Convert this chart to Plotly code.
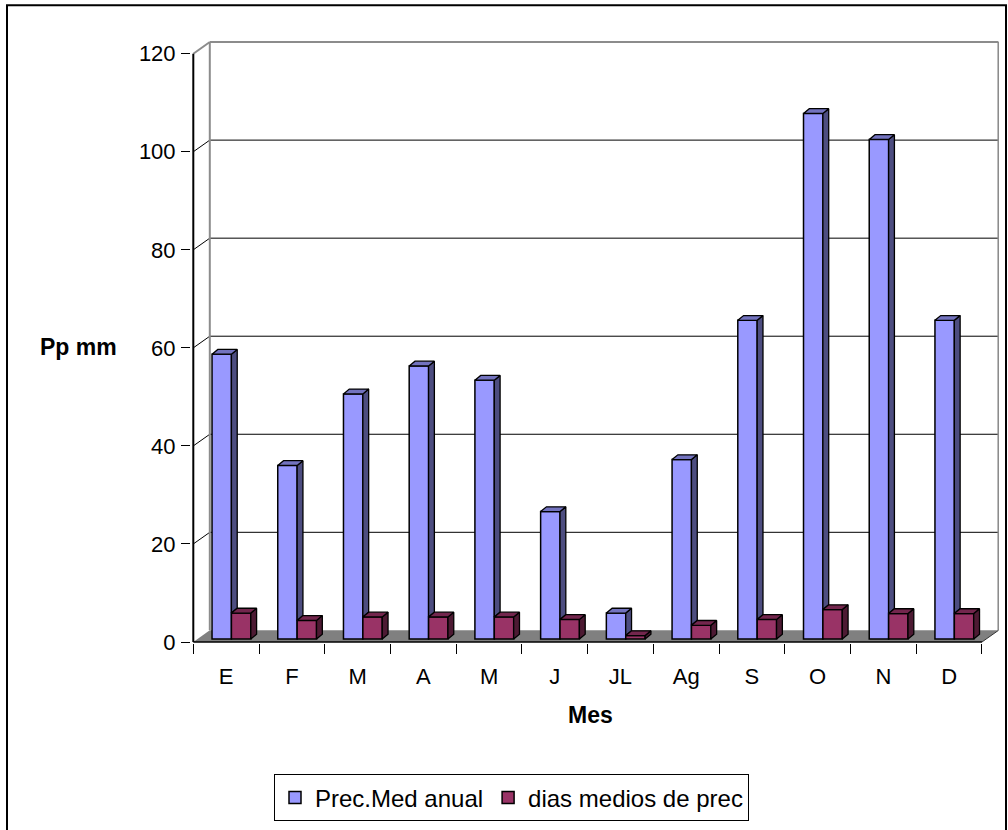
import plotly.graph_objects as go

# ---- data -------------------------------------------------------------
meses = ["E", "F", "M", "A", "M", "J", "JL", "Ag", "S", "O", "N", "D"]
prec_med_anual = [58.1, 35.4, 50.0, 55.7, 52.8, 26.0, 5.3, 36.6, 65.0, 107.2, 101.9, 65.0]
dias_medios_prec = [5.3, 3.8, 4.5, 4.5, 4.5, 4.0, 0.7, 2.8, 4.0, 6.0, 5.2, 5.2]
y_ticks = [0, 20, 40, 60, 80, 100, 120]

# ---- page geometry (pixels) --------------------------------------------
W, H = 1008, 830
L, R, T, B = 191, 9, 41, 184
PX_X = 65.72          # pixels per category slot
PX_Y = 4.927          # pixels per mm
X0_PX = 193.3         # pixel column of the front value axis
Y0_PX = 645.0         # pixel row of the value 0 on the front axis

x_range = [-(X0_PX - L) / PX_X, (W - R - X0_PX) / PX_X]
y_range = [-(H - B - Y0_PX) / PX_Y, (Y0_PX - T) / PX_Y]

# 3-D look: depth of the walls and of the columns, in data units
WALL_DX, WALL_DY = 16.5 / PX_X, 11.7 / PX_Y
BAR_DX, BAR_DY = 5.8 / PX_X, 4.8 / PX_Y
BAR_BASE = 3.0 / PX_Y
BAR_W = 0.295
OFF_BLUE, OFF_RED = 0.285, 0.58
N = len(meses)
YMAX = y_ticks[-1]

BLUE, BLUE_TOP, BLUE_SIDE = "#9999FF", "#7373BF", "#4D4D80"
RED, RED_TOP, RED_SIDE = "#993366", "#73264D", "#4D1A33"
FONT = "Liberation Sans, Arial, sans-serif"


def paper_x(px):
    return (px - L) / (W - L - R)


def paper_y(py):
    return (H - B - py) / (H - T - B)


def polys(list_of_pts):
    xs, ys = [], []
    for pts in list_of_pts:
        for (a, b) in pts + [pts[0]]:
            xs.append(a)
            ys.append(b)
        xs.append(None)
        ys.append(None)
    return xs, ys


fig = go.Figure()

# front faces of the columns
fig.add_trace(go.Bar(
    x=list(range(N)), y=prec_med_anual, base=BAR_BASE, width=BAR_W, offset=OFF_BLUE,
    marker=dict(color=BLUE, line=dict(color="black", width=1.5)),
    name="Prec.Med anual", hoverinfo="skip"))
fig.add_trace(go.Bar(
    x=list(range(N)), y=dias_medios_prec, base=BAR_BASE, width=BAR_W, offset=OFF_RED,
    marker=dict(color=RED, line=dict(color="black", width=1.5)),
    name="dias medios de prec", hoverinfo="skip"))

# side and top faces
blue_side, blue_top, red_side, red_top = [], [], [], []
for i in range(N):
    bx0 = i + OFF_BLUE
    bx1 = bx0 + BAR_W
    rx0 = i + OFF_RED
    rx1 = rx0 + BAR_W
    bt = BAR_BASE + prec_med_anual[i]
    rt = BAR_BASE + dias_medios_prec[i]
    # blue side face: only the part rising above the neighbouring red column
    blue_side.append([(bx1, rt), (bx1, bt), (bx1 + BAR_DX, bt + BAR_DY), (bx1 + BAR_DX, rt + BAR_DY)])
    blue_top.append([(bx0, bt), (bx1, bt), (bx1 + BAR_DX, bt + BAR_DY), (bx0 + BAR_DX, bt + BAR_DY)])
    red_side.append([(rx1, BAR_BASE), (rx1, rt), (rx1 + BAR_DX, rt + BAR_DY), (rx1 + BAR_DX, BAR_BASE + BAR_DY)])
    red_top.append([(rx0, rt), (rx1, rt), (rx1 + BAR_DX, rt + BAR_DY), (rx0 + BAR_DX, rt + BAR_DY)])

for faces, col in [(blue_side, BLUE_SIDE), (blue_top, BLUE_TOP), (red_side, RED_SIDE), (red_top, RED_TOP)]:
    xs, ys = polys(faces)
    fig.add_trace(go.Scatter(
        x=xs, y=ys, mode="lines", fill="toself", fillcolor=col,
        line=dict(color="black", width=1.3), showlegend=False, hoverinfo="skip"))

# ---- walls, floor and axes -------------------------------------------------
shapes = []
floor_path = (f"M 0,0 L {N},0 L {N + WALL_DX},{WALL_DY} L {WALL_DX},{WALL_DY} Z")
shapes.append(dict(type="path", path=floor_path, xref="x", yref="y",
                   fillcolor="#808080", line=dict(width=0), layer="below"))
for v in y_ticks[1:-1]:
    shapes.append(dict(type="line", xref="x", yref="y", x0=WALL_DX, x1=N + WALL_DX,
                       y0=v + WALL_DY, y1=v + WALL_DY, line=dict(color="black", width=1), layer="below"))
    shapes.append(dict(type="line", xref="x", yref="y", x0=0, x1=WALL_DX,
                       y0=v, y1=v + WALL_DY, line=dict(color="black", width=1), layer="below"))
gray = dict(color="#8C8C8C", width=2)
shapes += [
    dict(type="line", xref="x", yref="y", x0=WALL_DX, x1=WALL_DX, y0=WALL_DY, y1=YMAX + WALL_DY, line=gray, layer="below"),
    dict(type="line", xref="x", yref="y", x0=WALL_DX, x1=N + WALL_DX, y0=YMAX + WALL_DY, y1=YMAX + WALL_DY, line=gray, layer="below"),
    dict(type="line", xref="x", yref="y", x0=N + WALL_DX, x1=N + WALL_DX, y0=WALL_DY, y1=YMAX + WALL_DY, line=gray, layer="below"),
    dict(type="line", xref="x", yref="y", x0=0, x1=WALL_DX, y0=YMAX, y1=YMAX + WALL_DY, line=gray, layer="below"),
    dict(type="line", xref="x", yref="y", x0=0, x1=0, y0=0, y1=YMAX, line=dict(color="black", width=2), layer="below"),
    dict(type="line", xref="x", yref="y", x0=0, x1=N, y0=0, y1=0, line=dict(color="black", width=1.5), layer="below"),
    dict(type="line", xref="x", yref="y", x0=N, x1=N + WALL_DX, y0=0, y1=WALL_DY, line=dict(color="#333333", width=1), layer="below"),
]
# outer frame of the chart
shapes.append(dict(type="rect", xref="paper", yref="paper",
                   x0=paper_x(7), x1=paper_x(1006), y0=paper_y(845), y1=paper_y(5),
                   line=dict(color="black", width=2), fillcolor="rgba(0,0,0,0)"))

fig.update_layout(
    width=W, height=H,
    margin=dict(l=L, r=R, t=T, b=B, pad=0),
    paper_bgcolor="white", plot_bgcolor="white",
    barmode="overlay",
    font=dict(family=FONT, size=22, color="black"),
    shapes=shapes,
    showlegend=True,
    legend=dict(orientation="h", x=paper_x(511.5), xanchor="center",
                y=paper_y(778), yanchor="top",
                bordercolor="black", borderwidth=1, bgcolor="white",
                font=dict(family=FONT, size=24, color="black"),
                traceorder="normal"),
    xaxis=dict(range=x_range, showgrid=False, zeroline=False, showline=False,
               tickmode="array", tickvals=[i + 0.5 for i in range(N)], ticktext=meses,
               ticks="", ticklabelstandoff=18,
               tickfont=dict(family=FONT, size=22, color="black"),
               minor=dict(tickmode="array", tickvals=list(range(N + 1)), ticks="outside",
                          ticklen=10, tickwidth=1, tickcolor="black", showgrid=False)),
    yaxis=dict(range=y_range, showgrid=False, zeroline=False, showline=False,
               tickmode="array", tickvals=y_ticks, ticks="outside", ticklen=9,
               tickwidth=1, tickcolor="black", ticklabelstandoff=1,
               tickfont=dict(family=FONT, size=22, color="black")),
    annotations=[
        dict(text="<b>Pp mm</b>", xref="paper", yref="paper", x=paper_x(79), y=paper_y(349),
             xanchor="center", yanchor="middle", showarrow=False,
             font=dict(family=FONT, size=23, color="black")),
        dict(text="<b>Mes</b>", xref="paper", yref="paper", x=paper_x(590), y=paper_y(718),
             xanchor="center", yanchor="middle", showarrow=False,
             font=dict(family=FONT, size=23, color="black")),
    ],
)

fig.write_html("out.html")
